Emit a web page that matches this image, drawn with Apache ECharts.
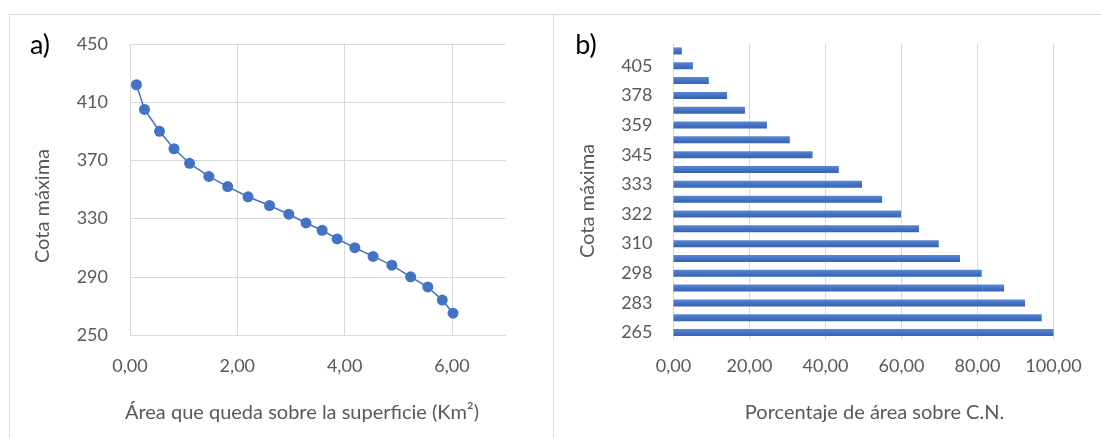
<!DOCTYPE html>
<html>
<head>
<meta charset="utf-8">
<script src="https://cdn.jsdelivr.net/npm/echarts@6/dist/echarts.min.js"></script>
<style>
html,body{margin:0;padding:0;background:#fff;}
#c{width:1101px;height:438px;}
</style>
</head>
<body>
<div id="c"></div>
<script>
// ---- data ----
const cotas = [265, 274, 283, 290, 298, 304, 310, 316, 322, 327, 333, 339, 345, 352, 359, 368, 378, 390, 405, 422];
const areaKm2 = [6.02, 5.82, 5.55, 5.23, 4.88, 4.53, 4.19, 3.86, 3.58, 3.28, 2.96, 2.60, 2.20, 1.82, 1.47, 1.11, 0.82, 0.55, 0.27, 0.12];
const barCategories = ['265', '274', '283', '290', '298', '304', '310', '316', '322', '327', '333', '338', '345', '351', '359', '368', '378', '390', '405', '422'];
const porcentaje = [100, 96.9, 92.5, 87.0, 81.1, 75.4, 69.8, 64.6, 59.9, 54.9, 49.6, 43.5, 36.6, 30.6, 24.6, 18.8, 14.1, 9.3, 5.1, 2.2];
const xTicksA = [0, 2, 4, 6];

const FONT = 'Lato';
const GRAY = '#595959';
const GRID = '#d9d9d9';
const BLUE = '#4472C4';
const fmt2 = v => v.toFixed(2).replace('.', ',');

const chart = echarts.init(document.getElementById('c'), null, {renderer: 'canvas'});
chart.setOption({
  animation: false,
  backgroundColor: '#fff',
  textStyle: {fontFamily: FONT},
  grid: [
    {left: 130, top: 44, width: 375.6, height: 291},
    {left: 673.5, top: 43.5, width: 380, height: 296.5}
  ],
  xAxis: [
    {
      gridIndex: 0, type: 'value', min: 0, max: 7, interval: 2,
      axisLine: {show: false}, axisTick: {show: false}, splitLine: {show: false},
      axisLabel: {margin: 22, color: GRAY, fontSize: 18, fontFamily: FONT,
        formatter: v => (v % 2 === 0 ? fmt2(v) : '')}
    },
    {
      gridIndex: 1, type: 'value', min: 0, max: 100, interval: 20,
      axisLine: {show: false}, axisTick: {show: false},
      splitLine: {show: true, lineStyle: {color: GRID, width: 1}},
      axisLabel: {margin: 17, color: GRAY, fontSize: 18, fontFamily: FONT, formatter: v => fmt2(v)}
    }
  ],
  yAxis: [
    {
      gridIndex: 0, type: 'value', min: 250, max: 450, interval: 40,
      axisLine: {show: false}, axisTick: {show: false},
      splitLine: {show: true, lineStyle: {color: GRID, width: 1}},
      axisLabel: {margin: 22, color: GRAY, fontSize: 18, fontFamily: FONT}
    },
    {
      gridIndex: 1, type: 'category', data: barCategories,
      axisLine: {show: false}, axisTick: {show: false},
      axisLabel: {interval: 1, margin: 21, color: GRAY, fontSize: 18, fontFamily: FONT}
    }
  ],
  series: [
    {
      type: 'line', xAxisIndex: 0, yAxisIndex: 0, z: 1,
      data: [], symbol: 'none',
      markLine: {
        silent: true, symbol: 'none', z: 1, animation: false,
        label: {show: false},
        lineStyle: {color: GRID, width: 1, type: 'solid'},
        data: xTicksA.map(v => ({xAxis: v}))
      }
    },
    {
      type: 'line', xAxisIndex: 0, yAxisIndex: 0, z: 3,
      data: areaKm2.map((x, i) => [x, cotas[i]]),
      symbol: 'circle', symbolSize: 11,
      itemStyle: {color: BLUE},
      lineStyle: {color: BLUE, width: 1.5}
    },
    {
      type: 'bar', xAxisIndex: 1, yAxisIndex: 1,
      data: porcentaje, barWidth: 7,
      itemStyle: {
        color: new echarts.graphic.LinearGradient(0, 0, 0, 1, [
          {offset: 0, color: '#5a88d6'},
          {offset: 0.5, color: '#4472C4'},
          {offset: 1, color: '#3862b2'}
        ])
      }
    }
  ],
  graphic: [
    {type: 'line', shape: {x1: 9, y1: 14.5, x2: 1101, y2: 14.5}, style: {stroke: GRID, lineWidth: 1}},
    {type: 'line', shape: {x1: 9.5, y1: 14, x2: 9.5, y2: 438}, style: {stroke: GRID, lineWidth: 1}},
    {type: 'line', shape: {x1: 553.5, y1: 14, x2: 553.5, y2: 438}, style: {stroke: GRID, lineWidth: 1}},
    {type: 'text', x: 40, y: 45, style: {text: 'a)', fill: '#000', font: '27px ' + FONT, textAlign: 'center', textVerticalAlign: 'middle'}},
    {type: 'text', x: 586, y: 45, style: {text: 'b)', fill: '#000', font: '27px ' + FONT, textAlign: 'center', textVerticalAlign: 'middle'}},
    {type: 'text', x: 302, y: 413, style: {text: 'Área que queda sobre la superficie (Km²)', fill: GRAY, font: '20px ' + FONT, textAlign: 'center', textVerticalAlign: 'middle'}},
    {type: 'text', x: 874.5, y: 413, style: {text: 'Porcentaje de área sobre C.N.', fill: GRAY, font: '20px ' + FONT, textAlign: 'center', textVerticalAlign: 'middle'}},
    {type: 'text', x: 43, y: 206, rotation: Math.PI / 2, style: {text: 'Cota máxima', fill: GRAY, font: '20px ' + FONT, textAlign: 'center', textVerticalAlign: 'middle'}},
    {type: 'text', x: 587.6, y: 201, rotation: Math.PI / 2, style: {text: 'Cota máxima', fill: GRAY, font: '20px ' + FONT, textAlign: 'center', textVerticalAlign: 'middle'}}
  ]
});
</script>
</body>
</html>
